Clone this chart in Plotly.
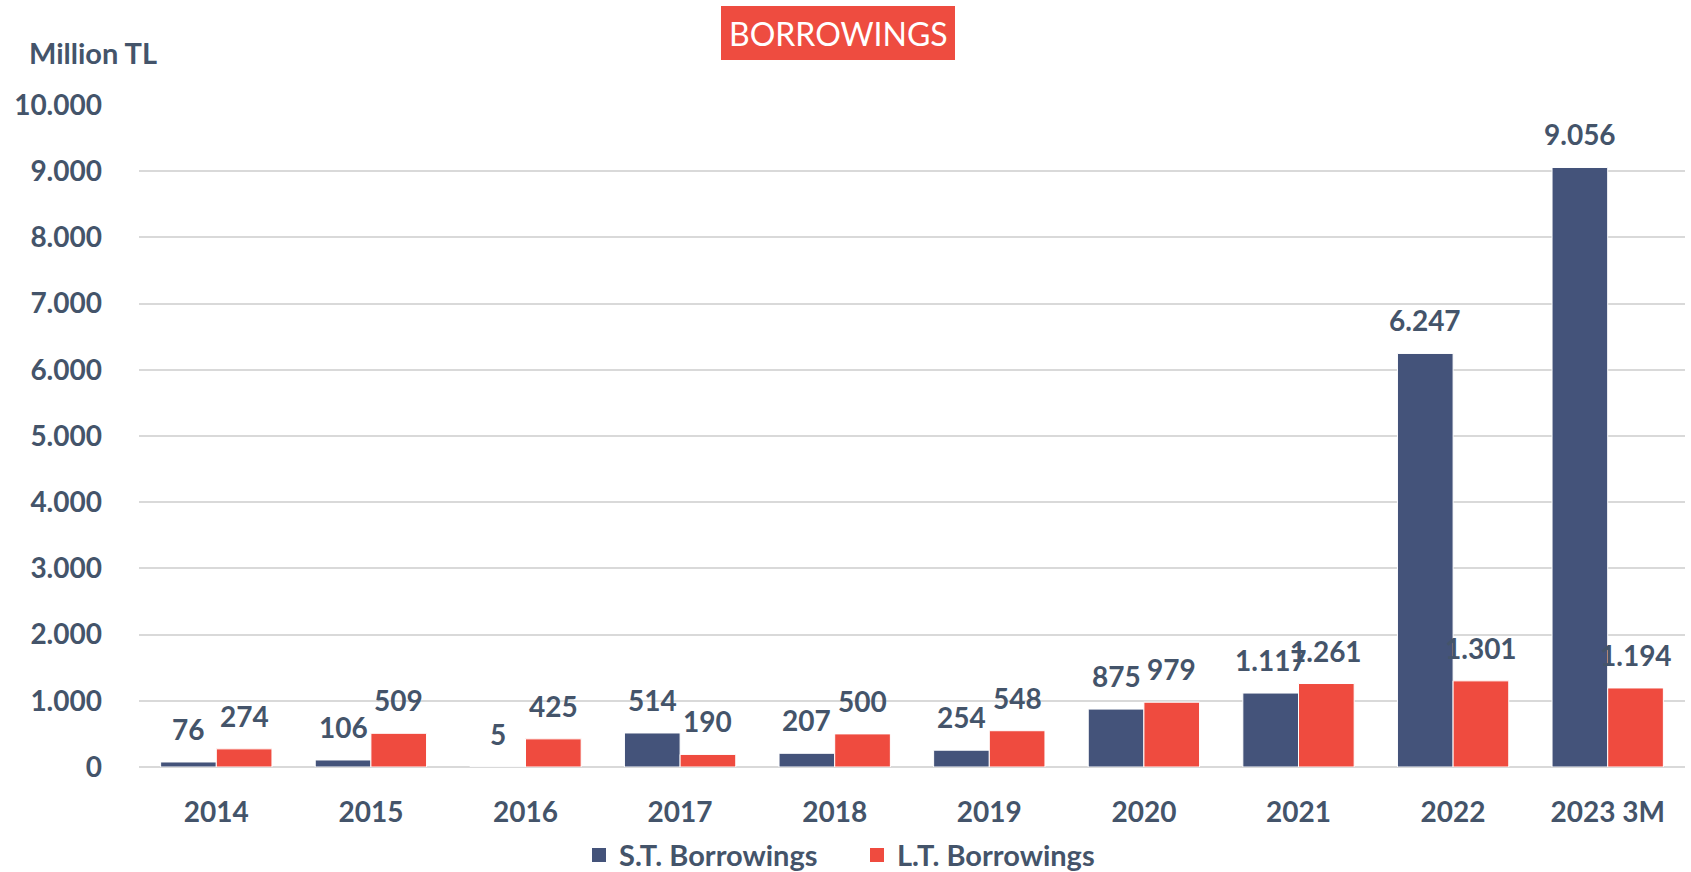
import plotly.graph_objects as go

categories = ["2014", "2015", "2016", "2017", "2018", "2019", "2020", "2021", "2022", "2023 3M"]
st_borrowings = [76, 106, 5, 514, 207, 254, 875, 1117, 6247, 9056]
lt_borrowings = [274, 509, 425, 190, 500, 548, 979, 1261, 1301, 1194]
y_ticks = [0, 1000, 2000, 3000, 4000, 5000, 6000, 7000, 8000, 9000, 10000]

NAVY = "#44537A"
RED = "#EF4B3F"
TEXT = "#44546A"
GRID = "#D9D9D9"
FONT = "Lato"


def tr_number(v):
    return f"{v:,}".replace(",", ".")


fig = go.Figure()
fig.add_trace(go.Bar(
    x=categories, y=st_borrowings, name="S.T. Borrowings", showlegend=False,
    marker=dict(color=NAVY, line=dict(color="white", width=1)),
))
fig.add_trace(go.Bar(
    x=categories, y=lt_borrowings, name="L.T. Borrowings", showlegend=False,
    marker=dict(color=RED, line=dict(color="white", width=1)),
))

# legend entries with larger square swatches
for name, color in (("S.T. Borrowings", NAVY), ("L.T. Borrowings", RED)):
    fig.add_trace(go.Scatter(
        x=[None], y=[None], mode="markers", name=name,
        marker=dict(symbol="square", size=14, color=color),
    ))

# value labels above each bar (half a bar-width left/right of the category)
bar_px = 0.72 * 154.7 / 2
for series, shift in ((st_borrowings, -bar_px / 2), (lt_borrowings, bar_px / 2)):
    for i, v in enumerate(series):
        fig.add_annotation(
            x=i, y=v, text=tr_number(v), showarrow=False,
            xshift=shift, yshift=14, yanchor="bottom", xanchor="center",
            font=dict(family=FONT, size=28, color=TEXT, weight="bold"),
        )

# axis unit caption
fig.add_annotation(
    xref="paper", yref="paper", x=(27 - 139) / 1546, y=(767 - 53) / 662,
    xanchor="left", yanchor="middle",
    text="Million TL", showarrow=False,
    font=dict(family=FONT, size=29, color=TEXT, weight="bold"),
)

# title box
fig.add_shape(
    type="rect", xref="paper", yref="paper",
    x0=(721 - 139) / 1546, x1=(955 - 139) / 1546,
    y0=(767 - 60) / 662, y1=(767 - 6) / 662,
    fillcolor="#EE4C40", line=dict(width=0), layer="above",
)
fig.add_annotation(
    xref="paper", yref="paper", x=(838 - 139) / 1546, y=(767 - 33) / 662,
    text="BORROWINGS", showarrow=False, xanchor="center", yanchor="middle",
    font=dict(family=FONT, size=32, color="white"),
)

fig.update_layout(
    width=1691, height=872,
    margin=dict(l=139, r=6, t=105, b=105, autoexpand=False),
    paper_bgcolor="white", plot_bgcolor="white",
    barmode="group", bargap=0.28, bargroupgap=0,
    separators=",.",
    font=dict(family=FONT, color=TEXT),
    showlegend=True,
    legend=dict(
        orientation="h", x=(579 - 139) / 1546, y=-0.133,
        xanchor="left", yanchor="middle",
        entrywidth=233, entrywidthmode="pixels",
        font=dict(family=FONT, size=29, color=TEXT, weight="bold"),
    ),
)
fig.update_xaxes(
    type="category", categoryorder="array", categoryarray=categories,
    range=[-0.5, len(categories) - 0.5], automargin=False,
    showgrid=False, showline=False, ticks="",
    tickfont=dict(family=FONT, size=28, color=TEXT, weight="bold"),
    ticklabelstandoff=26,
)
fig.update_yaxes(
    range=[0, 10000], tickvals=y_ticks, tickformat=",d", automargin=False,
    showgrid=True, gridcolor=GRID, gridwidth=2,
    zeroline=True, zerolinecolor=GRID, zerolinewidth=2,
    showline=False, ticks="",
    tickfont=dict(family=FONT, size=28, color=TEXT, weight="bold"),
    ticklabelstandoff=36,
)

fig.write_html("out.html")
